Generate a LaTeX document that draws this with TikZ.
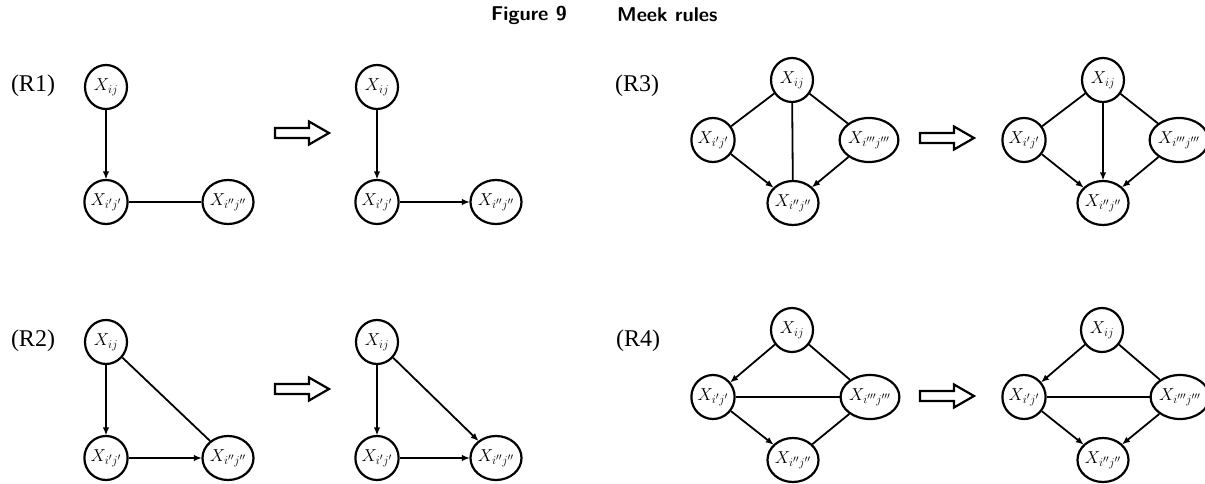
\documentclass[tikz,border=0pt]{standalone}
\usepackage{fontspec}
\newfontfamily\rulefont{Liberation Serif}
\usetikzlibrary{shapes.geometric,arrows.meta}

\tikzset{
  var/.style={ellipse, draw, line width=2.2pt, minimum width=42pt, minimum height=44pt,
              inner sep=0pt, font=\fontsize{17.28}{17.28}\selectfont},
  dir/.style={line width=1.8pt, -{Latex[length=8pt,width=6.5pt]}, shorten >=-0.5pt},
  und/.style={line width=1.8pt},
  implies/.style={draw, line width=2.2pt, fill=white, miter limit=10},
  rulelabel/.style={font=\rulefont\fontsize{24}{24}\selectfont, inner sep=0pt},
  titlefont/.style={font=\sffamily\bfseries\fontsize{20}{20}\selectfont, inner sep=0pt, anchor=west}
}

% hollow "implies" arrow with its left end at (#1,#2)
\newcommand{\impliesarrow}[2]{%
  \draw[implies] (#1,#2-5) -- ++(34,0) -- ++(0,-6.5) -- ++(20,11.5) -- ++(-20,11.5)
    -- ++(0,-6.5) -- ++(-34,0) -- cycle;}

\begin{document}
\begin{tikzpicture}[x=1pt,y=-1pt]
\useasboundingbox (0,0) rectangle (1205,484);

% title
\node[titlefont] (fig) at (491,15) {Figure 9};
\node[titlefont] (ttl) at (617,15) {Meek rules};

% rule labels
\node[rulelabel] (r1) at (33,86) {(R1)};
\node[rulelabel] (r2) at (33,341) {(R2)};
\node[rulelabel] (r3) at (637,86) {(R3)};
\node[rulelabel] (r4) at (638,341) {(R4)};

% ---------- R1 ----------
\node[var] (a1) at (106,87)  {$X_{ij}$};
\node[var] (b1) at (106,202) {$X_{i'j'}$};
\node[var] (c1) at (228,202) {$X_{i''j''}$};
\draw[dir] (a1) -- (b1);
\draw[und] (b1) -- (c1);
\impliesarrow{275}{133}
\node[var] (a1r) at (377,87)  {$X_{ij}$};
\node[var] (b1r) at (377,202) {$X_{i'j'}$};
\node[var] (c1r) at (496,202) {$X_{i''j''}$};
\draw[dir] (a1r) -- (b1r);
\draw[dir] (b1r) -- (c1r);

% ---------- R2 ----------
\node[var] (a2) at (106,342) {$X_{ij}$};
\node[var] (b2) at (106,458) {$X_{i'j'}$};
\node[var] (c2) at (228,458) {$X_{i''j''}$};
\draw[dir] (a2) -- (b2);
\draw[dir] (b2) -- (c2);
\draw[und] (a2) -- (c2);
\impliesarrow{275}{389}
\node[var] (a2r) at (377,342) {$X_{ij}$};
\node[var] (b2r) at (377,458) {$X_{i'j'}$};
\node[var] (c2r) at (496,458) {$X_{i''j''}$};
\draw[dir] (a2r) -- (b2r);
\draw[dir] (b2r) -- (c2r);
\draw[dir] (a2r) -- (c2r);

% ---------- R3 ----------
\node[var] (a3) at (792,80)  {$X_{ij}$};
\node[var] (b3) at (713,140) {$X_{i'j'}$};
\node[var] (d3) at (869,140) {$X_{i'''j'''}$};
\node[var] (c3) at (793,203) {$X_{i''j''}$};
\draw[und] (a3) -- (b3);
\draw[und] (a3) -- (d3);
\draw[und] (a3) -- (c3);
\draw[dir] (b3) -- (c3);
\draw[dir] (d3) -- (c3);
\impliesarrow{920}{138}
\node[var] (a3r) at (1103,80)  {$X_{ij}$};
\node[var] (b3r) at (1024,140) {$X_{i'j'}$};
\node[var] (d3r) at (1179,140) {$X_{i'''j'''}$};
\node[var] (c3r) at (1103,203) {$X_{i''j''}$};
\draw[und] (a3r) -- (b3r);
\draw[und] (a3r) -- (d3r);
\draw[dir] (a3r) -- (c3r);
\draw[dir] (b3r) -- (c3r);
\draw[dir] (d3r) -- (c3r);

% ---------- R4 ----------
\node[var] (a4) at (792,330) {$X_{ij}$};
\node[var] (b4) at (713,397) {$X_{i'j'}$};
\node[var] (d4) at (870,397) {$X_{i'''j'''}$};
\node[var] (c4) at (793,460) {$X_{i''j''}$};
\draw[dir] (a4) -- (b4);
\draw[und] (a4) -- (d4);
\draw[und] (b4) -- (d4);
\draw[dir] (b4) -- (c4);
\draw[und] (d4) -- (c4);
\impliesarrow{920}{396}
\node[var] (a4r) at (1102,330) {$X_{ij}$};
\node[var] (b4r) at (1024,397) {$X_{i'j'}$};
\node[var] (d4r) at (1180,397) {$X_{i'''j'''}$};
\node[var] (c4r) at (1103,460) {$X_{i''j''}$};
\draw[dir] (a4r) -- (b4r);
\draw[und] (a4r) -- (d4r);
\draw[und] (b4r) -- (d4r);
\draw[dir] (b4r) -- (c4r);
\draw[dir] (d4r) -- (c4r);
\end{tikzpicture}
\end{document}
